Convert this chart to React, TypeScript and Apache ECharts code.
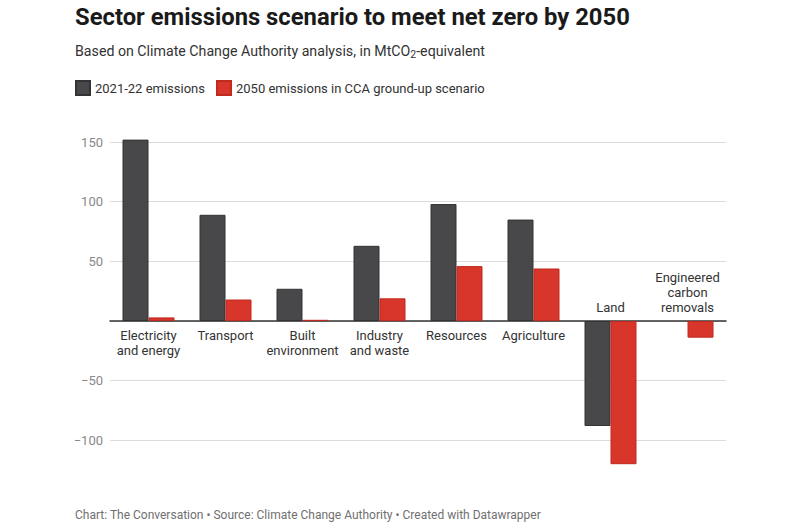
import React, { useEffect, useRef } from "react";
import * as echarts from "echarts";

const categories = [
  "Electricity\nand energy",
  "Transport",
  "Built\nenvironment",
  "Industry\nand waste",
  "Resources",
  "Agriculture",
  "Land",
  "Engineered\ncarbon\nremovals",
];
const emissions2021: (number | null)[] = [152, 89, 27, 63, 98, 85, -88, null];
const emissions2050: (number | null)[] = [3, 18, 1, 19, 46, 44, -120, -14];
const seriesNames = ["2021-22 emissions", "2050 emissions in CCA ground-up scenario"];
const aboveAxisCategories = ["Land", "Engineered\ncarbon\nremovals"];
const yMin = -150;
const yMax = 150;
const yStep = 50;

const FONT = "Roboto, 'Noto Sans', sans-serif";
const GRID = { left: 110, right: 74, top: 142, bottom: 30 };
const H = 530;

export default function App() {
  const ref = useRef<HTMLDivElement>(null);
  useEffect(() => {
    if (!ref.current) return;
    const chart = echarts.init(ref.current, undefined, { renderer: "svg" });
    const gridH = H - GRID.top - GRID.bottom;
    const zeroOffset = -(gridH * (0 - yMin)) / (yMax - yMin);
    chart.setOption({
      animation: false,
      backgroundColor: "#ffffff",
      textStyle: { fontFamily: FONT },
      graphic: [
        {
          type: "text",
          left: 75,
          top: 5,
          style: {
            text: "Sector emissions scenario to meet net zero by 2050",
            font: `bold 23.8px ${FONT}`,
            fill: "#1a1a1a",
          },
        },
        {
          type: "text",
          left: 75,
          top: 42,
          style: {
            text: "{a|Based on Climate Change Authority analysis, in MtCO}{s|2}{a|-equivalent}",
            rich: {
              a: { fontSize: 14.2, fontFamily: FONT, fill: "#333", color: "#333", lineHeight: 18 },
              s: { fontSize: 10.5, fontFamily: FONT, fill: "#333", color: "#333", padding: [7, 0, 0, 0], lineHeight: 18 },
            },
          },
        },
        {
          type: "text",
          left: 75,
          top: 509,
          style: {
            text: "Chart: The Conversation • Source: Climate Change Authority • Created with Datawrapper",
            font: `12px ${FONT}`,
            fill: "#707070",
          },
        },
      ],
      legend: {
        left: 75,
        top: 80,
        padding: 0,
        itemWidth: 14,
        itemHeight: 14,
        itemGap: 11,
        icon: "rect",
        textStyle: { fontSize: 13, color: "#333", fontFamily: FONT },
        data: seriesNames,
      },
      grid: { ...GRID, containLabel: false, outerBoundsMode: "none" },
      xAxis: [
        {
          type: "category",
          data: categories,
          position: "bottom",
          offset: zeroOffset,
          axisLine: { onZero: false, lineStyle: { color: "#333", width: 1.5 } },
          axisTick: { show: false },
          axisLabel: {
            color: "#333",
            fontSize: 13,
            lineHeight: 15,
            margin: 7,
            interval: 0,
            fontFamily: FONT,
            formatter: (v: string) => (aboveAxisCategories.includes(v) ? "" : v),
          },
        },
        {
          type: "category",
          data: categories,
          position: "bottom",
          offset: zeroOffset,
          axisLine: { show: false, onZero: false },
          axisTick: { show: false },
          splitLine: { show: false },
          axisLabel: {
            inside: true,
            color: "#333",
            fontSize: 13,
            lineHeight: 15,
            margin: 6,
            interval: 0,
            fontFamily: FONT,
            formatter: (v: string) => (aboveAxisCategories.includes(v) ? v : ""),
          },
        },
      ],
      yAxis: {
        type: "value",
        min: yMin,
        max: yMax,
        interval: yStep,
        axisLine: { show: false },
        axisTick: { show: false },
        splitLine: { show: true, showMinLine: false, lineStyle: { color: "#dcdcdc", width: 1 } },
        axisLabel: {
          color: "#888",
          fontSize: 13,
          margin: 7,
          fontFamily: FONT,
          formatter: (v: number) =>
            v === 0 || v === yMin ? "" : v < 0 ? "\u2212" + Math.abs(v) : String(v),
        },
      },
      series: [
        {
          name: seriesNames[0],
          type: "bar",
          data: emissions2021,
          barWidth: 26,
          barGap: "0%",
          clip: false,
          itemStyle: { color: "#48484a", borderColor: "#333335", borderWidth: 1 },
        },
        {
          name: seriesNames[1],
          type: "bar",
          data: emissions2050,
          barWidth: 26,
          barGap: "0%",
          clip: false,
          itemStyle: { color: "#d8362a", borderColor: "#c02a20", borderWidth: 1 },
        },
      ],
    });
    return () => chart.dispose();
  }, []);
  return (
    <div
      ref={ref}
      style={{ position: "fixed", left: 0, top: 0, width: 800, height: 530 }}
    />
  );
}
